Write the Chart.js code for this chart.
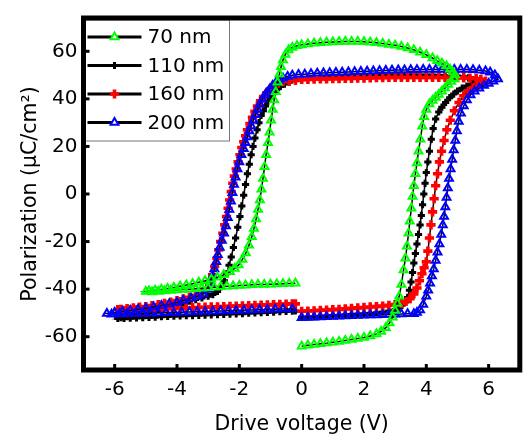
<!DOCTYPE html>
<html>
<head>
<meta charset="utf-8">
<script src="https://cdn.jsdelivr.net/npm/chart.js@4.4.0/dist/chart.umd.min.js"></script>
<style>
  html, body { margin: 0; padding: 0; background: #fff; }
  canvas { display: block; }
</style>
</head>
<body>
<canvas id="pe" width="528" height="434"></canvas>
<script>
// P-V loops, [voltage (V), polarization (uC/cm2)]
const sizes = ['70 nm', '110 nm', '160 nm', '200 nm'];

const loop70 = [
  [0,-64],[0.2,-63.6],[0.4,-63.3],[0.6,-63],[0.8,-62.7],[1,-62.3],[1.2,-62],[1.4,-61.6],[1.6,-61.2],[1.8,-60.8],
  [2,-60.3],[2.2,-59.7],[2.4,-58.9],[2.55,-57.8],[2.7,-56.2],[2.82,-54.2],[2.92,-51.8],[3,-49],[3.07,-46],[3.13,-43],
  [3.2,-38],[3.27,-32],[3.33,-27],[3.38,-22],[3.43,-16.5],[3.47,-11.5],[3.52,-6],[3.56,-1],[3.6,3.5],[3.65,8.5],
  [3.7,13],[3.75,18],[3.81,23],[3.87,28.5],[3.93,32.5],[4,35.5],[4.1,37.8],[4.2,39.3],[4.3,40.6],[4.4,41.8],
  [4.5,43.2],[4.6,44.6],[4.7,46],[4.8,47.3],[4.9,48.5],
  [4.92,50],[4.85,51.3],[4.76,52.5],[4.65,53.8],[4.5,55],[4.35,56],[4.2,57.2],[4,58.5],[3.8,59.6],[3.6,60.6],
  [3.4,61.4],[3.2,62],[3,62.5],[2.8,62.9],[2.6,63.3],[2.4,63.6],[2.2,63.8],[2,64],[1.8,64.1],[1.6,64.1],
  [1.4,64.1],[1.2,64],[1,63.9],[0.8,63.8],[0.6,63.6],[0.4,63.4],[0.2,63.1],[0,62.7],[-0.15,62.3],[-0.3,61.6],
  [-0.42,60.5],[-0.52,58.7],[-0.6,56.3],[-0.66,53.5],[-0.71,50.5],[-0.77,47],[-0.83,43],[-0.88,39.5],[-0.93,35.5],[-0.98,31],
  [-1.03,26],[-1.08,21.5],[-1.14,16.5],[-1.19,11.5],[-1.24,6.5],[-1.29,2],[-1.34,-2.5],[-1.4,-6.5],[-1.46,-10.5],[-1.53,-14.5],
  [-1.6,-18],[-1.69,-21.5],[-1.79,-24.8],[-1.9,-27.5],[-2.02,-29.8],[-2.15,-31.3],[-2.3,-32.7],[-2.5,-34],[-2.7,-35],[-2.9,-35.8],
  [-3.1,-36.5],[-3.3,-37.1],[-3.5,-37.7],[-3.7,-38.3],[-3.9,-38.8],[-4.1,-39.3],[-4.3,-39.7],[-4.5,-40.1],[-4.7,-40.5],[-4.9,-40.8],
  [-5,-41],
  [-4.8,-41.2],[-4.6,-41],[-4.4,-40.8],[-4.2,-40.6],[-4,-40.4],[-3.8,-40.2],[-3.6,-40],[-3.4,-39.8],[-3.2,-39.6],[-3,-39.4],
  [-2.8,-39.2],[-2.6,-39],[-2.4,-38.8],[-2.2,-38.7],[-2,-38.5],[-1.8,-38.4],[-1.6,-38.2],[-1.4,-38.1],[-1.2,-38],[-1,-37.9],
  [-0.8,-37.8],[-0.6,-37.7],[-0.4,-37.6],[-0.2,-37.5]
];

const loop110 = [
  [0,-51.8],[0.2,-51.7],[0.4,-51.6],[0.6,-51.4],[0.8,-51.3],[1,-51.1],[1.2,-51],[1.4,-50.8],[1.6,-50.7],[1.8,-50.5],
  [2,-50.3],[2.2,-50.1],[2.4,-49.9],[2.6,-49.6],[2.8,-49.2],[3,-48.6],[3.12,-47.8],[3.22,-46.8],[3.32,-45.4],[3.4,-43.5],
  [3.46,-40.5],[3.51,-37],[3.56,-33],[3.6,-29],[3.65,-25],[3.7,-21],[3.75,-17],[3.8,-13],[3.84,-9],[3.88,-4.5],
  [3.92,0],[3.96,4.5],[4,9],[4.05,13.5],[4.1,18],[4.16,23],[4.22,27.5],[4.3,31.5],[4.4,34.5],[4.5,36.5],
  [4.62,38.5],[4.75,40.5],[4.88,42],[5,43.3],[5.15,44.5],[5.3,45.4],[5.45,46.1],[5.6,46.8],
  [5.5,48],[5.35,48.8],[5.2,49.3],[5,49.6],[4.8,49.7],[4.6,49.8],[4.4,49.9],[4.2,50],[4,50],[3.8,50],
  [3.6,50.1],[3.4,50.1],[3.2,50.1],[3,50.1],[2.8,50],[2.6,50],[2.4,50],[2.2,49.9],[2,49.8],[1.8,49.7],
  [1.6,49.6],[1.4,49.5],[1.2,49.3],[1,49.2],[0.8,49],[0.6,48.8],[0.4,48.6],[0.2,48.3],[0,48],[-0.2,47.6],
  [-0.4,47],[-0.55,46.2],[-0.68,45.2],[-0.8,43.8],[-0.9,42.3],[-1,40.5],[-1.08,39],[-1.16,37],[-1.23,35],[-1.3,33],
  [-1.37,30],[-1.43,27],[-1.5,23.5],[-1.56,20],[-1.62,16.5],[-1.68,12.5],[-1.74,8.5],[-1.8,4],[-1.86,-0.5],[-1.92,-5],
  [-1.98,-9.5],[-2.05,-14],[-2.12,-18.5],[-2.19,-22.5],[-2.26,-26.5],[-2.33,-30],[-2.4,-33.5],[-2.48,-36.5],[-2.58,-39],[-2.7,-41],
  [-2.85,-42.3],[-3,-43],[-3.2,-43.7],[-3.4,-44.4],[-3.6,-45.1],[-3.8,-45.8],[-4,-46.5],[-4.2,-47.2],[-4.4,-47.9],[-4.6,-48.6],
  [-4.8,-49.3],[-5,-50],[-5.2,-50.6],[-5.4,-51.1],[-5.6,-51.6],[-5.8,-52],[-5.9,-52.3],
  [-5.7,-52.3],[-5.5,-52.2],[-5.3,-52.1],[-5.1,-52],[-4.9,-51.9],[-4.7,-51.8],[-4.5,-51.6],[-4.3,-51.5],[-4.1,-51.4],[-3.9,-51.3],
  [-3.7,-51.2],[-3.5,-51.1],[-3.3,-51],[-3.1,-50.9],[-2.9,-50.8],[-2.7,-50.7],[-2.5,-50.6],[-2.3,-50.5],[-2.1,-50.4],[-1.9,-50.3],
  [-1.7,-50.1],[-1.5,-50],[-1.3,-49.9],[-1.1,-49.8],[-0.9,-49.7],[-0.7,-49.5],[-0.5,-49.4],[-0.3,-49.3],[-0.2,-49.2]
];

const loop160 = [
  [0,-49.3],[0.2,-49.2],[0.4,-49.1],[0.6,-48.9],[0.8,-48.8],[1,-48.6],[1.2,-48.5],[1.4,-48.3],[1.6,-48.1],[1.8,-47.9],
  [2,-47.7],[2.2,-47.5],[2.4,-47.3],[2.6,-47.1],[2.8,-46.8],[3,-46.5],[3.2,-46],[3.35,-45.2],[3.48,-44],[3.6,-42],
  [3.7,-39.5],[3.78,-36.5],[3.86,-33.5],[3.93,-31],[4,-28.5],[4.05,-24],[4.1,-18.5],[4.15,-13],[4.2,-7.5],[4.25,-2],
  [4.3,3.5],[4.36,8.5],[4.42,13.5],[4.49,18],[4.57,22.5],[4.66,27],[4.77,31],[4.9,35],[5.05,38.5],[5.2,41.3],
  [5.35,43.2],[5.5,44.6],[5.65,45.8],[5.8,46.8],[5.9,47.5],
  [5.75,48.2],[5.6,48.5],[5.4,48.7],[5.2,48.8],[5,48.9],[4.8,49],[4.6,49],[4.4,49],[4.2,49],[4,49],
  [3.8,49],[3.6,49],[3.4,49],[3.2,49],[3,49],[2.8,49],[2.6,48.9],[2.4,48.9],[2.2,48.8],[2,48.7],
  [1.8,48.7],[1.6,48.6],[1.4,48.6],[1.2,48.5],[1,48.5],[0.8,48.4],[0.6,48.4],[0.4,48.3],[0.2,48.2],[0,48.2],
  [-0.2,47.9],[-0.4,47.6],[-0.6,47.2],[-0.75,46.6],[-0.9,45.4],[-1.02,44],[-1.12,42.6],[-1.22,41],[-1.32,39.2],[-1.42,37],
  [-1.5,34.8],[-1.58,32.2],[-1.66,29.6],[-1.74,27],[-1.8,24.5],[-1.86,22],[-1.92,19.5],[-1.98,16.5],[-2.04,13.5],[-2.1,10.5],
  [-2.16,7.5],[-2.21,4.5],[-2.26,1],[-2.31,-2.5],[-2.36,-6],[-2.41,-9.5],[-2.47,-13],[-2.53,-16.5],[-2.6,-20],[-2.66,-23.5],
  [-2.72,-27],[-2.79,-30.5],[-2.86,-34],[-2.94,-37],[-3.04,-39.6],[-3.2,-41.5],[-3.4,-42.6],[-3.6,-43.4],[-3.8,-44.1],[-4,-44.8],
  [-4.2,-45.4],[-4.4,-46],[-4.6,-46.5],[-4.8,-46.9],[-5,-47.3],[-5.2,-47.6],[-5.4,-47.9],[-5.6,-48.2],[-5.8,-48.5],[-5.9,-48.6],
  [-5.7,-48.9],[-5.5,-48.8],[-5.3,-48.7],[-5.1,-48.6],[-4.9,-48.5],[-4.7,-48.4],[-4.5,-48.3],[-4.3,-48.2],[-4.1,-48.1],[-3.9,-48],
  [-3.7,-47.9],[-3.5,-47.8],[-3.3,-47.7],[-3.1,-47.6],[-2.9,-47.5],[-2.7,-47.4],[-2.5,-47.3],[-2.3,-47.2],[-2.1,-47.1],[-1.9,-47],
  [-1.7,-46.9],[-1.5,-46.8],[-1.3,-46.7],[-1.1,-46.6],[-0.9,-46.5],[-0.7,-46.4],[-0.5,-46.3],[-0.3,-46.2],[-0.2,-46.2]
];

const loop200 = [
  [0,-52],[0.2,-51.9],[0.4,-51.8],[0.6,-51.7],[0.8,-51.6],[1,-51.5],[1.2,-51.4],[1.4,-51.3],[1.6,-51.2],[1.8,-51.1],
  [2,-51],[2.2,-50.9],[2.4,-50.9],[2.6,-50.8],[2.8,-50.7],[3,-50.6],[3.2,-50.5],[3.4,-50.4],[3.6,-50.3],[3.7,-49.8],
  [3.8,-48.8],[3.9,-46.5],[4,-43],[4.06,-40.5],[4.12,-37.5],[4.18,-34.5],[4.24,-31.5],[4.3,-28],[4.36,-24.5],[4.42,-21],
  [4.48,-17],[4.53,-13],[4.57,-9.5],[4.61,-5.5],[4.65,-1.5],[4.69,2.5],[4.73,6.5],[4.78,10.5],[4.83,14.5],[4.88,18.5],
  [4.93,22.5],[4.98,26.5],[5.04,30.5],[5.11,34],[5.2,37],[5.3,39.5],[5.42,41.6],[5.55,43.2],[5.7,44.5],[5.85,45.6],
  [6,46.5],[6.15,47.4],[6.3,48.3],
  [6.2,50],[6.05,51.2],[5.9,51.7],[5.7,52],[5.5,52.2],[5.3,52.3],[5.1,52.3],[4.9,52.3],[4.7,52.3],[4.5,52.3],
  [4.3,52.3],[4.1,52.3],[3.9,52.3],[3.7,52.2],[3.5,52.2],[3.3,52.1],[3.1,52.1],[2.9,52],[2.7,51.9],[2.5,51.8],
  [2.3,51.7],[2.1,51.6],[1.9,51.5],[1.7,51.4],[1.5,51.3],[1.3,51.2],[1.1,51.1],[0.9,51],[0.7,50.9],[0.5,50.8],
  [0.3,50.6],[0.1,50.4],[-0.1,50.2],[-0.3,49.9],[-0.45,49.4],[-0.6,48.7],[-0.72,47.8],[-0.83,46.8],[-0.93,45.6],[-1.02,44.2],
  [-1.1,42.8],[-1.18,41.5],[-1.26,39.8],[-1.34,37.8],[-1.41,35.6],[-1.48,33.3],[-1.55,31],[-1.62,28.6],[-1.68,26.5],[-1.74,24],
  [-1.8,21.5],[-1.86,19],[-1.93,16.5],[-2,13.5],[-2.06,10.5],[-2.12,7],[-2.17,4],[-2.22,0.5],[-2.27,-3],[-2.32,-6.5],
  [-2.37,-10],[-2.43,-13.5],[-2.49,-16.5],[-2.56,-19.5],[-2.63,-22.5],[-2.69,-25.5],[-2.74,-28.5],[-2.8,-31.5],[-2.86,-34.5],[-2.92,-37.5],
  [-3,-40.2],[-3.15,-42],[-3.35,-43],[-3.55,-43.8],[-3.8,-44.8],[-4,-45.6],[-4.25,-46.3],[-4.5,-46.9],[-4.75,-47.5],[-5,-48],
  [-5.25,-48.5],[-5.5,-49],[-5.75,-49.4],[-6,-49.8],[-6.25,-50.2],
  [-6.1,-50.6],[-5.85,-50.5],[-5.6,-50.4],[-5.35,-50.3],[-5.1,-50.2],[-4.85,-50.1],[-4.6,-50],[-4.35,-49.9],[-4.1,-49.8],[-3.85,-49.7],
  [-3.6,-49.6],[-3.35,-49.5],[-3.1,-49.4],[-2.85,-49.3],[-2.6,-49.2],[-2.35,-49.1],[-2.1,-49],[-1.85,-48.9],[-1.6,-48.8],[-1.35,-48.7],
  [-1.1,-48.6],[-0.85,-48.5],[-0.6,-48.4],[-0.3,-48.3]
];

const xTicks = [-6, -4, -2, 0, 2, 4, 6];
const yTicks = [-60, -40, -20, 0, 20, 40, 60];

const FONT = 'DejaVu Sans';
Chart.defaults.color = '#000';
Chart.defaults.font.family = FONT;

const toXY = loop => loop.map(p => ({ x: p[0], y: p[1] }));

// styles: marker colour and shape per thickness, line is black for all
const styles = [
  { color: '#00ff00', pointStyle: 'triangle', radius: 4.5, bw: 2, fill: false, order: 0 },
  { color: '#000000', pointStyle: 'cross', radius: 3.6, bw: 3, fill: true, order: 3 },
  { color: '#ff0000', pointStyle: 'cross', radius: 4.6, bw: 3.6, fill: true, order: 2 },
  { color: '#0000ff', pointStyle: 'triangle', radius: 4.5, bw: 2, fill: false, order: 1 }
];

const loops = [loop70, loop110, loop160, loop200];

const datasets = loops.map((loop, i) => ({
  label: sizes[i],
  data: toXY(loop),
  borderColor: '#000',
  borderWidth: 1.5,
  showLine: true,
  tension: 0,
  pointStyle: styles[i].pointStyle,
  pointRadius: styles[i].radius,
  pointBorderWidth: styles[i].bw,
  pointBorderColor: styles[i].color,
  pointBackgroundColor: styles[i].fill ? styles[i].color : 'rgba(255,255,255,0)',
  order: styles[i].order
}));

// frame, inward ticks and the boxed legend
const framePlugin = {
  id: 'frame',
  afterDatasetsDraw(chart) {
    const { ctx, chartArea: a, scales } = chart;
    ctx.save();

    // legend box
    const lx = a.left + 1.5, ly = a.top + 1.5, lw = 144, lh = 121;
    ctx.fillStyle = '#fff';
    ctx.fillRect(lx, ly, lw, lh);
    ctx.strokeStyle = '#777';
    ctx.lineWidth = 1;
    ctx.strokeRect(lx + 0.5, ly + 0.5, lw, lh);
    sizes.forEach((s, i) => {
      const y = a.top + 19 + i * 28.5;
      ctx.strokeStyle = '#000';
      ctx.lineWidth = 3;
      ctx.beginPath();
      ctx.moveTo(a.left + 4, y);
      ctx.lineTo(a.left + 58, y);
      ctx.stroke();
      const st = styles[i];
      ctx.strokeStyle = st.color;
      ctx.fillStyle = st.fill ? st.color : '#fff';
      ctx.lineWidth = st.bw;
      Chart.helpers.drawPoint(ctx, { pointStyle: st.pointStyle, radius: st.radius, borderWidth: st.bw, rotation: 0 }, a.left + 31, y);
      ctx.fillStyle = '#000';
      ctx.font = '20px "' + FONT + '"';
      ctx.textAlign = 'left';
      ctx.textBaseline = 'middle';
      ctx.fillText(s, a.left + 64, y + 1);
    });

    // thick frame
    ctx.strokeStyle = '#000';
    ctx.lineWidth = 5;
    ctx.strokeRect(a.left, a.top, a.right - a.left, a.bottom - a.top);

    // small inward ticks
    ctx.lineWidth = 3;
    xTicks.forEach(t => {
      const x = scales.x.getPixelForValue(t);
      ctx.beginPath();
      ctx.moveTo(x, a.bottom);
      ctx.lineTo(x, a.bottom - 6);
      ctx.stroke();
    });
    yTicks.forEach(t => {
      const y = scales.y.getPixelForValue(t);
      ctx.beginPath();
      ctx.moveTo(a.left, y);
      ctx.lineTo(a.left + 6, y);
      ctx.stroke();
    });
    ctx.restore();
  }
};

new Chart(document.getElementById('pe'), {
  type: 'scatter',
  data: { datasets },
  options: {
    responsive: false,
    animation: false,
    layout: { padding: { top: 14, right: 3.5, left: 0, bottom: 0 } },
    plugins: {
      legend: { display: false },
      tooltip: { enabled: false }
    },
    scales: {
      x: {
        type: 'linear',
        min: -7,
        max: 7,
        grid: { display: false, drawTicks: false },
        border: { display: false },
        afterBuildTicks: s => { s.ticks = xTicks.map(v => ({ value: v })); },
        afterFit: s => { s.height = 64; },
        ticks: { font: { size: 20 }, padding: 8, maxRotation: 0 },
        title: {
          display: true,
          text: 'Drive voltage (V)',
          font: { size: 20.5, lineHeight: 0.9 },
          padding: { top: 0, bottom: 0 }
        }
      },
      y: {
        type: 'linear',
        min: -74,
        max: 74,
        grid: { display: false, drawTicks: false },
        border: { display: false },
        afterBuildTicks: s => { s.ticks = yTicks.map(v => ({ value: v })); },
        afterFit: s => { s.width = 83.5; },
        ticks: { font: { size: 20 }, padding: 6 },
        title: {
          display: true,
          text: 'Polarization (μC/cm²)',
          font: { size: 20.5, lineHeight: 1.2 },
          padding: { top: 18, bottom: 0 }
        }
      }
    }
  },
  plugins: [framePlugin]
});
</script>
</body>
</html>
